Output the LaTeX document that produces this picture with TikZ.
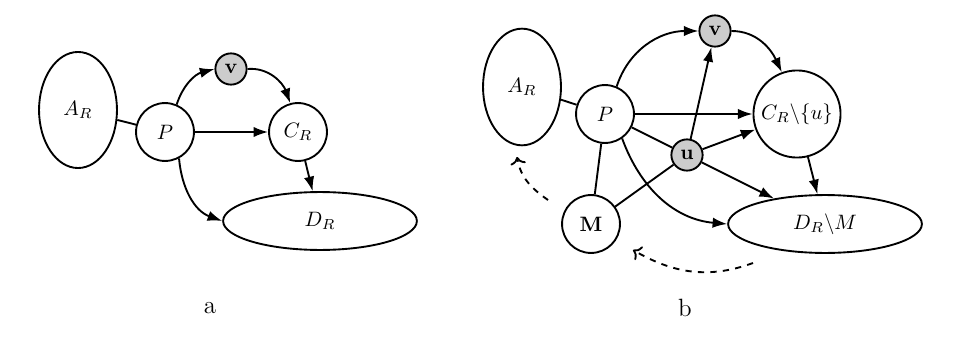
\documentclass[tikz,border=0pt]{standalone}
\usetikzlibrary{arrows.meta,shapes.geometric}

\begin{document}
\begin{tikzpicture}[x=0.48pt,y=-0.48pt,line width=0.9pt,
  vert/.style={draw,circle,inner sep=0pt,minimum size=27.8pt},
  small/.style={draw,circle,fill=gray!40,inner sep=0pt,minimum size=15pt},
  set/.style={draw,ellipse,inner sep=0pt},
  arr/.style={-{Latex[length=7pt,width=5pt]}},
  back/.style={->,dashed}]
\useasboundingbox (0,0) rectangle (967,339);
% a
\node[set,minimum width=37.4pt,minimum height=55.7pt] (Aa) at (78,110){$A_R$};
\node[vert] (Pa) at (165,132){$P$};
\node[small] (va) at (231,69){\textbf{v}};
\node[vert] (Ca) at (298,132){$C_R$};
\node[set,minimum width=93pt,minimum height=27.8pt] (Da) at (320,221){$D_R$};
\draw (Aa)--(Pa);
\draw[arr] (Pa.67) to[out=72,in=195] (va.west);
\draw[arr] (va.east) to[out=5,in=110] (Ca.105);
\draw[arr] (Pa)--(Ca);\draw[arr] (Ca)--(Da);
\draw[arr] (Pa.-62) to[out=-85,in=160] (Da.west);
\node[font=\large] (la) at (210,308){a};
% b
\node[set,minimum width=37.4pt,minimum height=56pt] (Ab) at (522,87){$A_R$};
\node[vert] (Pb) at (605,114){$P$};
\node[small] (vb) at (715,31){\textbf{v}};
\node[small] (ub) at (687,155){\textbf{u}};
\node[vert] (Mb) at (591,224){\textbf{M}};
\node[vert,minimum size=41.8pt] (Cb) at (797,114){$C_R\backslash\{u\}$};
\node[set,minimum width=93pt,minimum height=27.8pt] (Db) at (825,224){$D_R\backslash M$};
\draw (Ab)--(Pb);\draw (Pb)--(Mb);\draw (Mb)--(ub);\draw (Pb)--(ub);
\draw[arr] (Pb.67) to[out=72,in=180] (vb.west);
\draw[arr] (vb.east) to[out=0,in=115] (Cb.110);
\draw[arr] (Pb)--(Cb);\draw[arr] (ub)--(vb);\draw[arr] (ub)--(Cb);\draw[arr] (ub)--(Db);
\draw[arr] (Pb.-55) to[out=-70,in=175] (Db.west);
\draw[arr] (Cb)--(Db);
\coordinate (s1) at (548,200);\coordinate (e1) at (517,157);
\coordinate (s2) at (753,263);\coordinate (e2) at (633,250);
\draw[back] (s1) to[out=145,in=-80] (e1);
\draw[back] (s2) to[out=200,in=-30] (e2);
\node[font=\large] (lb) at (685,308){b};
\end{tikzpicture}
\end{document}
